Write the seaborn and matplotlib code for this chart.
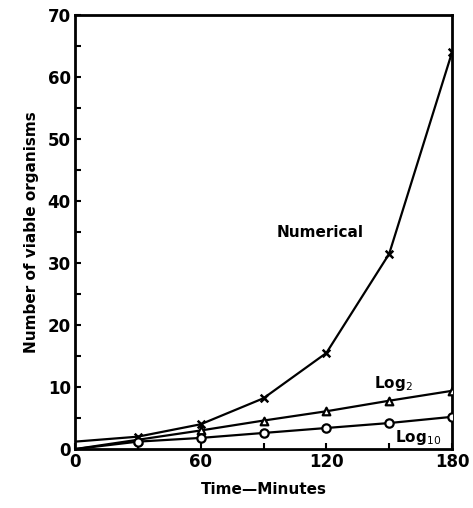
import matplotlib
matplotlib.use("Agg")
import matplotlib.pyplot as plt
import seaborn as sns
import pandas as pd
from matplotlib.ticker import MultipleLocator

sns.set_theme(style="ticks")
plt.rcParams['font.family'] = ['DejaVu Sans']
plt.rcParams['text.color'] = 'black'
plt.rcParams['axes.labelcolor'] = 'black'
plt.rcParams['xtick.color'] = 'black'
plt.rcParams['ytick.color'] = 'black'

time_num = [0, 30, 60, 90, 120, 150, 180]
numerical = [1.2, 2, 4, 8.2, 15.5, 31.5, 64]
time_log = [0, 30, 60, 90, 120, 150, 180]
log2 = [0, 1.5, 3.0, 4.6, 6.1, 7.8, 9.4]
log10 = [0, 1.2, 1.8, 2.6, 3.4, 4.2, 5.2]
x_ticks = [0, 60, 120, 180]
y_ticks = [0, 10, 20, 30, 40, 50, 60, 70]

fig = plt.figure(figsize=(4.73, 5.08), dpi=100)
ax = fig.add_axes([0.1586, 0.116, 0.797, 0.854])

df_num = pd.DataFrame({"t": time_num, "v": numerical})
df_l2 = pd.DataFrame({"t": time_log, "v": log2})
df_l10 = pd.DataFrame({"t": time_log, "v": log10})

sns.lineplot(data=df_num, x="t", y="v", ax=ax, color="black", lw=1.6)
sns.lineplot(data=df_l2, x="t", y="v", ax=ax, color="black", lw=1.6)
sns.lineplot(data=df_l10, x="t", y="v", ax=ax, color="black", lw=1.6)

ax.scatter(time_num[1:], numerical[1:], marker="x", s=30, color="black", linewidths=1.8, zorder=3)
ax.scatter(time_log[1:], log2[1:], marker="^", s=30, facecolor="white", edgecolor="black", linewidths=1.6, zorder=3)
ax.scatter(time_log[1:], log10[1:], marker="o", s=36, facecolor="white", edgecolor="black", linewidths=1.6, zorder=3)

ax.set_xlim(0, 180)
ax.set_ylim(0, 70)
ax.set_xticks(x_ticks)
ax.set_yticks(y_ticks)
ax.xaxis.set_minor_locator(MultipleLocator(30))
ax.yaxis.set_minor_locator(MultipleLocator(5))
ax.tick_params(which="both", direction="in", width=1.5, length=4, top=False, right=False,
               labelsize=12, pad=3, colors="black")
for lab in ax.get_xticklabels() + ax.get_yticklabels():
    lab.set_fontweight("bold")
for s in ax.spines.values():
    s.set_linewidth(2)
    s.set_color("black")
    s.set_visible(True)

ax.set_xlabel("Time\u2014Minutes", fontsize=11, fontweight="bold", labelpad=8, color="black")
ax.set_ylabel("Number of viable organisms", fontsize=11, fontweight="bold", labelpad=6, color="black")

ax.text(117, 35, "Numerical", fontsize=11, fontweight="bold", ha="center", va="center", color="black")
ax.text(152, 10.6, "Log$_2$", fontsize=11, fontweight="bold", ha="center", va="center", color="black")
ax.text(164, 1.9, "Log$_{10}$", fontsize=11, fontweight="bold", ha="center", va="center", color="black")

fig.savefig("out.png", dpi=100)
